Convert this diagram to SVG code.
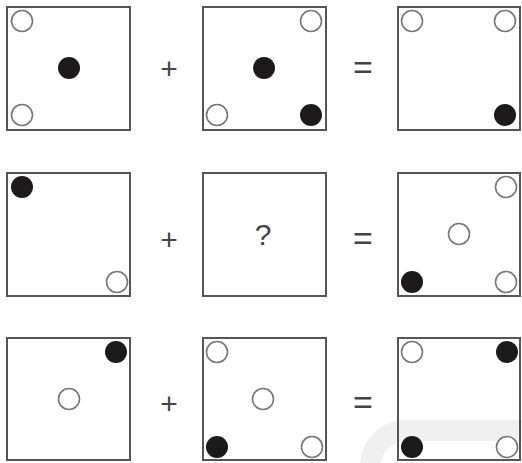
<svg xmlns="http://www.w3.org/2000/svg" width="522" height="463" viewBox="0 0 522 463">
<style>
.box{fill:none;stroke:#555;stroke-width:2}
.o{fill:#fff;stroke:#777;stroke-width:1.6}
.f{fill:#1c1a1b}
.op{font-family:"Liberation Sans",Arial,sans-serif;fill:#444;text-anchor:middle}
</style>
<rect width="522" height="463" fill="#fff"/>
<g id="watermark">
<path d="M370.5 470 L370.5 466 A35.5 35.5 0 0 1 406 430.5 L530 430.5" fill="none" stroke="#f0f0f0" stroke-width="21"/>
</g>
<g id="r1b1"><rect class="box" x="7" y="7" width="123" height="123"/>
<circle class="o" cx="22" cy="21" r="10.5"/><circle class="f" cx="69" cy="68" r="11"/><circle class="o" cx="22" cy="115" r="10.5"/></g>
<g id="r1b2"><rect class="box" x="203" y="7" width="123" height="123"/>
<circle class="o" cx="311" cy="21" r="10.5"/><circle class="f" cx="264" cy="68" r="11"/><circle class="o" cx="217" cy="115" r="10.5"/><circle class="f" cx="311" cy="115" r="11"/></g>
<g id="r1b3"><rect class="box" x="398" y="7" width="122" height="123"/>
<circle class="o" cx="412" cy="21" r="10.5"/><circle class="o" cx="505" cy="21" r="10.5"/><circle class="f" cx="505" cy="115" r="11"/></g>
<g id="r2b1"><rect class="box" x="7" y="173" width="123" height="123"/>
<circle class="f" cx="22" cy="187" r="11"/><circle class="o" cx="117" cy="282" r="10.5"/></g>
<g id="r2b2"><rect class="box" x="203" y="173" width="123" height="123"/>
<text class="op" x="263" y="245" font-size="30">?</text></g>
<g id="r2b3"><rect class="box" x="398" y="173" width="122" height="123"/>
<circle class="o" cx="506" cy="187" r="10.5"/><circle class="o" cx="459" cy="234" r="10.5"/><circle class="f" cx="412" cy="282" r="11"/><circle class="o" cx="506" cy="282" r="10.5"/></g>
<g id="r3b1"><rect class="box" x="7" y="338" width="123" height="122"/>
<circle class="f" cx="116" cy="352" r="11"/><circle class="o" cx="69" cy="399" r="10.5"/></g>
<g id="r3b2"><rect class="box" x="203" y="338" width="123" height="122"/>
<circle class="o" cx="217" cy="352" r="10.5"/><circle class="o" cx="263" cy="399" r="10.5"/><circle class="f" cx="217" cy="447" r="11"/><circle class="o" cx="312" cy="447" r="10.5"/></g>
<g id="r3b3"><rect class="box" x="398" y="338" width="122" height="122"/>
<circle class="o" cx="412" cy="352" r="10.5"/><circle class="f" cx="507" cy="352" r="11"/><circle class="f" cx="412" cy="447" r="11"/><circle class="o" cx="507" cy="447" r="10.5"/></g>
<g id="connectors">
<text class="op" x="169" y="79" font-size="30">+</text>
<text class="op" x="363" y="79" font-size="34">=</text>
<text class="op" x="169" y="250" font-size="30">+</text>
<text class="op" x="363" y="250" font-size="34">=</text>
<text class="op" x="169" y="414" font-size="30">+</text>
<text class="op" x="363" y="414" font-size="34">=</text>
</g>
</svg>
